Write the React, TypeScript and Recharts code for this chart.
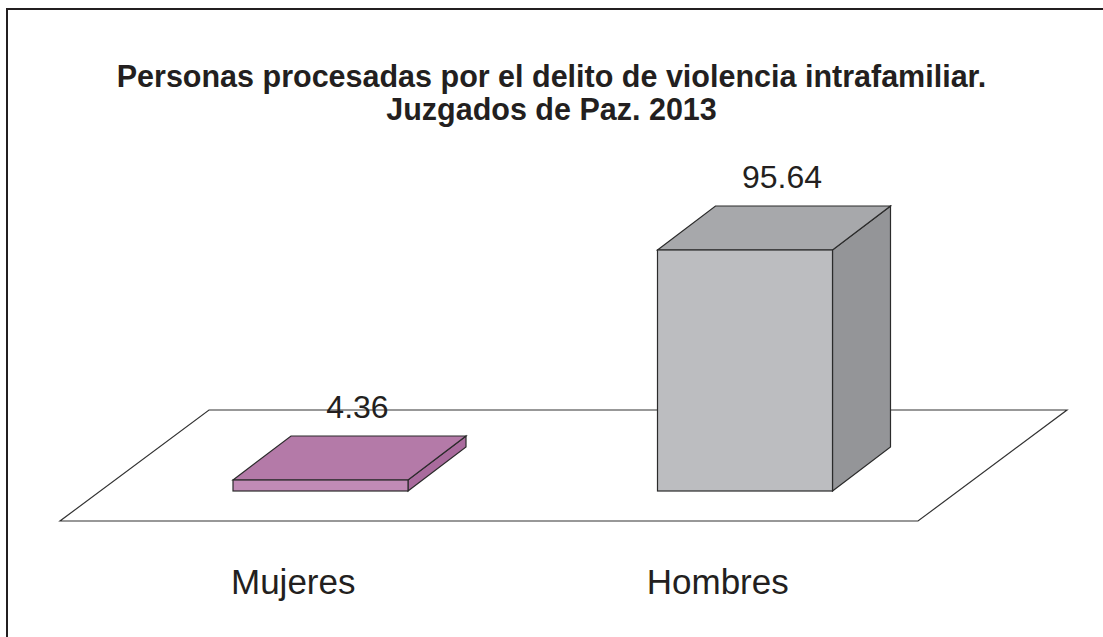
import { BarChart, Bar, XAxis, YAxis, LabelList, Customized } from "recharts";

const categories = ["Mujeres", "Hombres"];
const values = [4.36, 95.64];
const frontColors = ["#C18BB6", "#BCBDC0"];
const topColors = ["#B47AA8", "#A7A8AB"];
const sideColors = ["#A96B9D", "#949598"];
const titleLines = [
  "Personas procesadas por el delito de violencia intrafamiliar.",
  "Juzgados de Paz. 2013",
];

const W = 1103;
const H = 637;
const AXIS_H = 30;
const margin = { top: 239, right: 146, bottom: 116, left: 108 };
const DX = 58;
const DY = 44;

const data = categories.map((c, i) => ({ name: c, value: values[i], idx: i }));

function Box(props: any) {
  const { x, y, width, height, index } = props;
  const s = "#2b2b2b";
  const top = `${x},${y} ${x + DX},${y - DY} ${x + width + DX},${y - DY} ${x + width},${y}`;
  const side = `${x + width},${y} ${x + width + DX},${y - DY} ${x + width + DX},${y + height - DY} ${x + width},${y + height}`;
  return (
    <g>
      <polygon points={side} fill={sideColors[index]} stroke={s} strokeWidth={1.2} />
      <polygon points={top} fill={topColors[index]} stroke={s} strokeWidth={1.2} />
      <rect x={x} y={y} width={width} height={height} fill={frontColors[index]} stroke={s} strokeWidth={1.2} />
    </g>
  );
}

function Floor() {
  const base = H - margin.bottom - AXIS_H;
  const l = margin.left;
  const r = W - margin.right;
  const fl = l - 48;
  const fr = r - 39;
  const fy = base + 30;
  const by = fy - 111;
  const off = 149;
  return (
    <g>
      <rect x={7} y={9} width={W + 20} height={H + 20} fill="none" stroke="#231F20" strokeWidth={2} />
      <polygon
        points={`${fl},${fy} ${fr},${fy} ${fr + off},${by} ${fl + off},${by}`}
        fill="#ffffff"
        stroke="#333"
        strokeWidth={1.2}
      />
      {titleLines.map((t, i) => (
        <text
          key={i}
          x={W / 2}
          y={87 + i * 33}
          textAnchor="middle"
          fontFamily="'Liberation Sans', Arial, sans-serif"
          fontWeight="bold"
          fontSize={30.5}
          fill="#231F20"
        >
          {t}
        </text>
      ))}
    </g>
  );
}

function ValueLabel(props: any) {
  const { x, y, width, value } = props;
  return (
    <text
      x={x + width / 2 + DX / 2 + 8}
      y={y - DY - 18}
      textAnchor="middle"
      fontFamily="'Liberation Sans', Arial, sans-serif"
      fontSize={32}
      fill="#231F20"
    >
      {value}
    </text>
  );
}

function CatTick(props: any) {
  const { x, y, payload } = props;
  return (
    <text
      x={x - 27}
      y={y + 95}
      textAnchor="middle"
      fontFamily="'Liberation Sans', Arial, sans-serif"
      fontSize={35}
      fill="#231F20"
    >
      {payload.value}
    </text>
  );
}

export default function App() {
  return (
    <div style={{ position: "absolute", left: 0, top: 0, width: W, height: H, background: "#fff" }}>
      <BarChart width={W} height={H} data={data} margin={margin} barSize={175}>
        <Customized component={Floor} />
        <XAxis dataKey="name" height={AXIS_H} axisLine={false} tickLine={false} tick={<CatTick />} interval={0} />
        <YAxis hide domain={[0, 100]} />
        <Bar dataKey="value" shape={<Box />} isAnimationActive={false}>
          <LabelList dataKey="value" content={<ValueLabel />} />
        </Bar>
      </BarChart>
    </div>
  );
}
